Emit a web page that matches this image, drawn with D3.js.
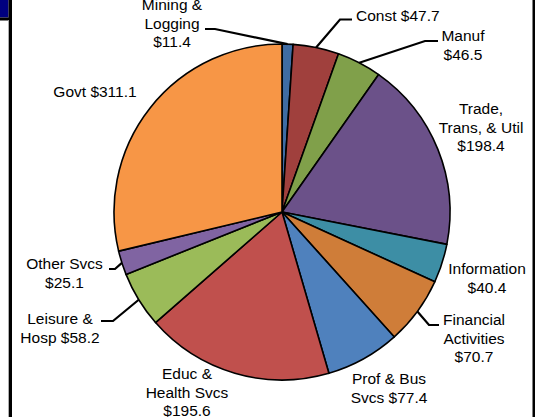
<!DOCTYPE html>
<html><head><meta charset="utf-8">
<script src="https://cdn.jsdelivr.net/npm/d3@7"></script>
<style>html,body{margin:0;padding:0;background:#fff;}svg{display:block;}</style>
</head><body>
<script>
// ---- data ----
const categories = ["Mining & Logging","Const","Manuf","Trade, Trans, & Util","Information","Financial Activities","Prof & Bus Svcs","Educ & Health Svcs","Leisure & Hosp","Other Svcs","Govt"];
const values = [11.4, 47.7, 46.5, 198.4, 40.4, 70.7, 77.4, 195.6, 58.2, 25.1, 311.1];
const labelLines = [
  ["Mining &","Logging","$11.4"],
  ["Const $47.7"],
  ["Manuf","$46.5"],
  ["Trade,","Trans, & Util","$198.4"],
  ["Information","$40.4"],
  ["Financial","Activities","$70.7"],
  ["Prof & Bus","Svcs $77.4"],
  ["Educ &","Health Svcs","$195.6"],
  ["Leisure &","Hosp $58.2"],
  ["Other Svcs","$25.1"],
  ["Govt $311.1"]
];
const colors = ["#3F6CA3","#A0403D","#80A04A","#6B5189","#3D8EA5","#CF7D39","#4F81BD","#C0504D","#9BBB59","#8064A2","#F79646"];

// ---- layout (positions/styles) ----
const W = 546, H = 417;
const cx = 282, cy = 212, R = 168;
const lineH = 18.6;
// label anchor: x, first baseline y, text-anchor
const labelPos = [
  {x:172, y:10, a:"middle"},
  {x:356, y:20.5, a:"start"},
  {x:463, y:41, a:"middle"},
  {x:481, y:114, a:"middle"},
  {x:487, y:274, a:"middle"},
  {x:474, y:325, a:"middle"},
  {x:389, y:384, a:"middle"},
  {x:187, y:379, a:"middle"},
  {x:60, y:324, a:"middle"},
  {x:64.5, y:269, a:"middle"},
  {x:95, y:96.5, a:"middle"}
];
// leader line bend points (after the arc point)
const leaders = {
  0: [[215,29],[205,29]],
  1: [[340,19.5],[352,19.5]],
  2: [[425,41],[438,41]],
  5: [[429,325],[439,325]],
  8: [[113,321],[101,321]],
  9: [[115,269],[109,269]]
};

const svg = d3.select("body").append("svg").attr("width", W).attr("height", H);
svg.append("rect").attr("width", W).attr("height", H).attr("fill", "#fff");

// frame
svg.append("rect").attr("x",0).attr("y",0).attr("width",8.5).attr("height",17.5).attr("fill","#000080");
svg.append("rect").attr("x",0).attr("y",17.5).attr("width",9).attr("height",3).attr("fill","#000");
svg.append("rect").attr("x",8.5).attr("y",0).attr("width",3.5).attr("height",H).attr("fill","#000");
svg.append("rect").attr("x",8).attr("y",20).attr("width",0.8).attr("height",H-20).attr("fill","#bbb");
svg.append("rect").attr("x",532.5).attr("y",0).attr("width",2.5).attr("height",H).attr("fill","#000");

const pie = d3.pie().sort(null).value(d => d)(values);
const arc = d3.arc().innerRadius(0).outerRadius(R);

const g = svg.append("g").attr("transform", `translate(${cx},${cy})`);
g.selectAll("path.slice").data(pie).join("path")
  .attr("class","slice")
  .attr("d", arc)
  .attr("fill", (d,i) => colors[i])
  .attr("stroke", "#000")
  .attr("stroke-width", 1.6)
  .attr("stroke-linejoin","round");

// leaders
pie.forEach((d,i) => {
  if (!leaders[i]) return;
  const mid = (d.startAngle + d.endAngle) / 2;
  const p0 = [cx + R*Math.sin(mid), cy - R*Math.cos(mid)];
  const pts = [p0].concat(leaders[i]);
  svg.append("path")
    .attr("d", d3.line()(pts))
    .attr("fill","none").attr("stroke","#000").attr("stroke-width",2.2);
});

// labels
labelLines.forEach((lines,i) => {
  const p = labelPos[i];
  const t = svg.append("text")
    .attr("x", p.x).attr("y", p.y)
    .attr("text-anchor", p.a)
    .attr("font-family", "'Liberation Sans', Arial, sans-serif")
    .attr("font-size", "15.5px")
    .attr("fill", "#000");
  lines.forEach((ln,j) => {
    t.append("tspan").attr("x", p.x).attr("y", p.y + j*lineH).text(ln);
  });
});
</script>
</body></html>
